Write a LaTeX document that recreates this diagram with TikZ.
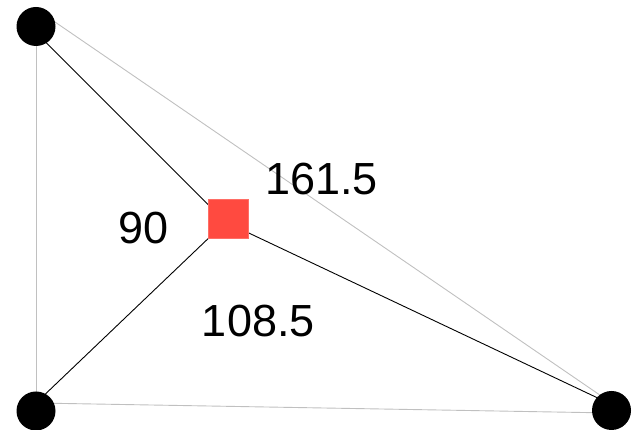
\documentclass[tikz,border=0pt]{standalone}
\usepackage{fontspec}
\setmainfont{Liberation Sans}
\usepackage{xcolor}
\usetikzlibrary{positioning}
\definecolor{hubred}{RGB}{255,74,64}
\definecolor{edgegray}{RGB}{192,192,192}

\begin{document}
\begin{tikzpicture}[
    x=1pt, y=1pt,
    vertex/.style={circle, fill=black, inner sep=0pt, minimum size=39pt},
    hub/.style={rectangle, fill=hubred, draw=hubred!80!white, line width=0.5pt, inner sep=0pt, minimum size=39.5pt},
    edge/.style={draw=edgegray, line width=0.9pt},
    spoke/.style={draw=black, line width=0.9pt},
    angle/.style={anchor=base, inner sep=0pt, font=\fontsize{45}{54}\selectfont}
]
    \useasboundingbox (0,0) rectangle (632,430);

    % Line ends
    \coordinate (tlend) at (36,397.5);
    \coordinate (blend) at (36,27);
    \coordinate (brend) at (611.5,25.5);
    \coordinate (meet) at (225.5,208);
    \coordinate (tltop) at (36,421);
    \coordinate (brmid) at (611.5,27);
    \coordinate (brlow) at (611.5,17);

    % Vertices
    \coordinate (tl) at (36,403.5);
    \coordinate (bl) at (36,19);
    \coordinate (br) at (611.5,19.5);

    % Triangle
    \draw [edge] (tl) -- (bl);
    \draw [edge] (tltop) -- (brmid);
    \draw [edge] (blend) -- (brlow);

    % Spokes
    \draw [spoke] (tlend) -- (meet);
    \draw [spoke] (blend) -- (meet);
    \draw [spoke] (brend) -- (meet);

    % Nodes
    \node [hub] (center) at (228,211) {};
    \node [vertex] (tlnode) at (tl) {};
    \node [vertex] (blnode) at (bl) {};
    \node [vertex] (brnode) at (br) {};

    % Angles
    \node [angle] (upper) at (321.5,235) {161.5};
    \node [angle] (left) at (143.3,186.7) {90};
    \node [angle] (lower) at (258.3,93.3) {108.5};
\end{tikzpicture}
\end{document}
